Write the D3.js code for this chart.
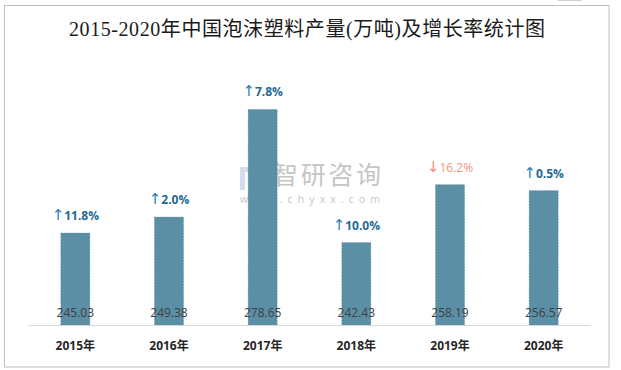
<!DOCTYPE html>
<html>
<head>
<meta charset="utf-8">
<script src="https://cdn.jsdelivr.net/npm/d3@7"></script>
<style>
  body { margin: 0; background: #fff; }
  #chart text { font-family: 'Open Sans', 'Noto Sans CJK SC', sans-serif; }
  #chart .title { font-family: 'Liberation Serif', 'Noto Sans CJK SC', serif; font-size: 20px; fill: #1a1a1a; }
  #chart .value-label { font-size: 12px; fill: #404040; }
  #chart .rate-label { font-size: 12px; }
  #chart .rate-label .arrow { font-family: 'DejaVu Sans', sans-serif; font-weight: 400; font-size: 15px; }
  #chart .year-label { font-size: 12px; font-weight: 700; fill: #262626; }
</style>
</head>
<body>
<div id="chart"></div>
<script>
// ── data ──
const years  = ["2015年", "2016年", "2017年", "2018年", "2019年", "2020年"];
const output = [245.03, 249.38, 278.65, 242.43, 258.19, 256.57];   // 万吨
const rates  = [11.8, 2.0, 7.8, 10.0, -16.2, 0.5];                  // %, as labelled
const yRange = [220, 300];

const W = 621, H = 370;
const plot = { left: 28.5, right: 590.5, top: 31, bottom: 325 };

const svg = d3.select("#chart").append("svg")
  .attr("width", W).attr("height", H);

// outer frame
svg.append("rect")
  .attr("x", 4.5).attr("y", 5.5).attr("width", 604.5).attr("height", 361.5)
  .attr("fill", "none").attr("stroke", "#bfbfbf").attr("stroke-width", 1);
svg.append("line")
  .attr("x1", 558).attr("x2", 582).attr("y1", 0.5).attr("y2", 0.5)
  .attr("stroke", "#cfcfcf");

// title
svg.append("text")
  .attr("class", "title")
  .attr("x", 307).attr("y", 36)
  .attr("text-anchor", "middle")
  .attr("textLength", 476).attr("lengthAdjust", "spacing")
  .text("2015-2020年中国泡沫塑料产量(万吨)及增长率统计图");

// scales
const x = d3.scaleBand().domain(years).range([plot.left, plot.right]).paddingInner(0.69).paddingOuter(0.345);
const y = d3.scaleLinear().domain(yRange).range([plot.bottom, plot.top]);

// watermark
const wm = svg.append("g").attr("opacity", 0.5);
wm.append("path")
  .attr("d", "M240,167h22v5h-17v18h-5z M249,176h13v8h-9v6h-4z")
  .attr("fill", "#a9bddd");
wm.append("text")
  .attr("x", 273).attr("y", 184)
  .attr("font-size", 25).attr("fill", "#8c8c8c")
  .attr("textLength", 108).attr("lengthAdjust", "spacing")
  .text("智研咨询");
wm.append("text")
  .attr("x", 240).attr("y", 203)
  .attr("font-size", 10.5).attr("fill", "#8c8c8c")
  .attr("textLength", 140).attr("lengthAdjust", "spacing")
  .text("www.chyxx.com");

const data = years.map((yr, i) => ({ year: yr, value: output[i], rate: rates[i] }));

// bars
svg.append("g").selectAll("rect")
  .data(data).join("rect")
  .attr("x", d => x(d.year))
  .attr("y", d => y(d.value))
  .attr("width", x.bandwidth())
  .attr("height", d => y(yRange[0]) - y(d.value))
  .attr("fill", "#5b8fa6")
  .attr("stroke", "#4c7d94").attr("stroke-width", 0.5).attr("stroke-dasharray", "1.5,1.5");

// baseline
svg.append("line")
  .attr("x1", plot.left).attr("x2", plot.right)
  .attr("y1", plot.bottom + 0.5).attr("y2", plot.bottom + 0.5)
  .attr("stroke", "#d9d9d9");

// value labels inside bars
svg.append("g").selectAll("text")
  .data(data).join("text")
  .attr("class", "value-label")
  .attr("x", d => x(d.year) + x.bandwidth() / 2)
  .attr("y", plot.bottom - 8)
  .attr("text-anchor", "middle")
  .text(d => d.value.toFixed(2));

// growth labels above bars
const rl = svg.append("g").selectAll("text")
  .data(data).join("text")
  .attr("class", "rate-label")
  .attr("x", d => x(d.year) + x.bandwidth() / 2)
  .attr("y", d => y(d.value) - 13)
  .attr("text-anchor", "middle")
  .attr("fill", d => d.rate < 0 ? "#f0957c" : "#1d6a94")
  .attr("font-weight", d => d.rate < 0 ? 400 : 700);
rl.append("tspan").attr("class", "arrow")
  .attr("fill", d => d.rate < 0 ? "#f0957c" : "#1f7fb5")
  .text(d => d.rate < 0 ? "↓" : "↑");
rl.append("tspan")
  .text(d => Math.abs(d.rate).toFixed(1) + "%");

// x axis labels
svg.append("g").selectAll("text")
  .data(years).join("text")
  .attr("class", "year-label")
  .attr("x", d => x(d) + x.bandwidth() / 2)
  .attr("y", 350)
  .attr("text-anchor", "middle")
  .text(d => d);
</script>
</body>
</html>
